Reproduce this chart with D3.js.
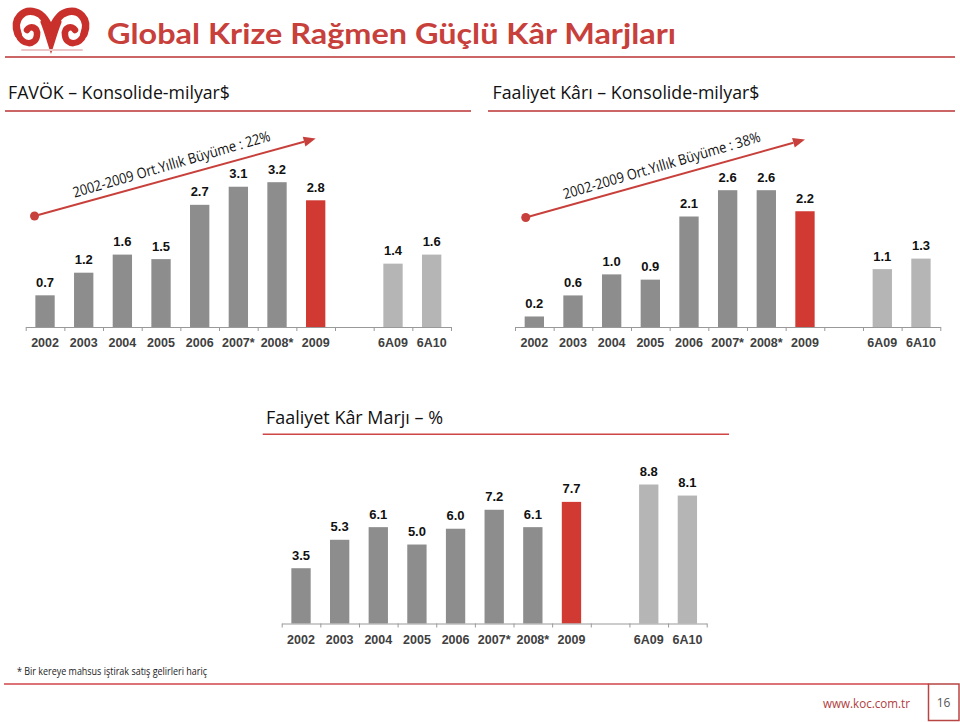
<!DOCTYPE html>
<html>
<head>
<meta charset="utf-8">
<script src="https://cdn.jsdelivr.net/npm/d3@7/dist/d3.min.js"></script>
<style>
  html, body { margin: 0; padding: 0; background: #fff; }
  svg { display: block; }
</style>
</head>
<body>
<svg id="page" width="960" height="722"></svg>
<script>
// ---------------- DATA ----------------
const categories = ["2002", "2003", "2004", "2005", "2006", "2007*", "2008*", "2009", "", "6A09", "6A10"];
const favokValues = [0.7, 1.2, 1.6, 1.5, 2.7, 3.1, 3.2, 2.8, null, 1.4, 1.6];
const faaliyetValues = [0.2, 0.6, 1.0, 0.9, 2.1, 2.6, 2.6, 2.2, null, 1.1, 1.3];
const marginValues = [3.5, 5.3, 6.1, 5.0, 6.0, 7.2, 6.1, 7.7, null, 8.8, 8.1];
const favokLabels = ["0.7", "1.2", "1.6", "1.5", "2.7", "3.1", "3.2", "2.8", "", "1.4", "1.6"];
const faaliyetLabels = ["0.2", "0.6", "1.0", "0.9", "2.1", "2.6", "2.6", "2.2", "", "1.1", "1.3"];
const marginLabels = ["3.5", "5.3", "6.1", "5.0", "6.0", "7.2", "6.1", "7.7", "", "8.8", "8.1"];
const growthTexts = ["2002-2009 Ort.Yıllık Büyüme : 22%", "2002-2009 Ort.Yıllık Büyüme : 38%"];
const titleText = "Global Krize Rağmen Güçlü Kâr Marjları";
const subtitle1 = "FAVÖK – Konsolide-milyar$";
const subtitle2 = "Faaliyet Kârı – Konsolide-milyar$";
const subtitle3 = "Faaliyet Kâr Marjı – %";
const footnote = "* Bir kereye mahsus iştirak satış gelirleri hariç";
const website = "www.koc.com.tr";
const pageNumber = "16";

// ---------------- STYLE ----------------
const RED = "#C8403B";
const LINE_RED = "#CC6666";
const DARK_BAR = "#8D8D8D";
const LIGHT_BAR = "#B5B5B5";
const RED_BAR = "#D13A33";
const SANS = "'Liberation Sans', Arial, sans-serif";
const HUMAN_BOLD = "Lato, 'Open Sans', sans-serif";
const HUMAN = "'Open Sans', 'Noto Sans', sans-serif";

function barColor(cat) {
  if (cat === "2009") return RED_BAR;
  if (cat.startsWith("6A")) return LIGHT_BAR;
  return DARK_BAR;
}

const svg = d3.select("#page");

// ---------------- HEADER ----------------
// Logo (approximation)
const logo = svg.append("g").attr("fill", "none").attr("stroke", "#C9302C").attr("stroke-linecap", "round");
logo.append("path")
  .attr("d", "M18,34 C12,18 24,9 35,12 C43,14 47,22 51,30 C55,22 59,14 67,12 C78,9 90,18 84,34")
  .attr("stroke-width", 7.5);
logo.append("path")
  .attr("d", "M18,34 C22,46 36,46 37,35 C38,27 30,25 27,30")
  .attr("stroke-width", 6.5);
logo.append("path")
  .attr("d", "M84,34 C80,46 66,46 65,35 C64,27 72,25 75,30")
  .attr("stroke-width", 6.5);
logo.append("path")
  .attr("d", "M43,22 C47,32 49,40 51,46 C53,40 55,32 59,22")
  .attr("stroke-width", 5);
logo.append("path")
  .attr("d", "M22,50 L82,50").attr("stroke", "#ecc6c6").attr("stroke-width", 2);

svg.append("text")
  .attr("x", 107).attr("y", 44)
  .attr("font-family", HUMAN_BOLD).attr("font-weight", 700).attr("font-size", 28)
  .attr("fill", RED)
  .attr("textLength", 569).attr("lengthAdjust", "spacingAndGlyphs")
  .text(titleText);

svg.append("line").attr("x1", 5).attr("x2", 955).attr("y1", 57).attr("y2", 57)
  .attr("stroke", LINE_RED).attr("stroke-width", 2);

svg.append("text").attr("x", 8).attr("y", 98.5)
  .attr("font-family", HUMAN).attr("font-size", 18).attr("fill", "#111")
  .attr("textLength", 222).attr("lengthAdjust", "spacingAndGlyphs")
  .text(subtitle1);
svg.append("text").attr("x", 492.5).attr("y", 98.5)
  .attr("font-family", HUMAN).attr("font-size", 18).attr("fill", "#111")
  .attr("textLength", 267).attr("lengthAdjust", "spacingAndGlyphs")
  .text(subtitle2);

svg.append("line").attr("x1", 5).attr("x2", 471).attr("y1", 111).attr("y2", 111)
  .attr("stroke", LINE_RED).attr("stroke-width", 2);
svg.append("line").attr("x1", 488).attr("x2", 955).attr("y1", 111).attr("y2", 111)
  .attr("stroke", LINE_RED).attr("stroke-width", 2);

// ---------------- CHART BUILDER ----------------
function drawChart(opts) {
  const { values, labels, x0, x1, baseline, maxHeight } = opts;
  const keys = categories.map((c, i) => c === "" ? "gap" + i : c);
  const x = d3.scaleBand().domain(keys).range([x0, x1]).paddingInner(0.5).paddingOuter(0.25);
  const y = d3.scaleLinear().domain([0, d3.max(values)]).range([baseline, baseline - maxHeight]);
  const g = svg.append("g");

  const data = keys.map((k, i) => ({ k, cat: categories[i], v: values[i], label: labels[i] }))
    .filter(d => d.v !== null);

  g.selectAll("rect.bar").data(data).join("rect")
    .attr("class", "bar")
    .attr("x", d => x(d.k))
    .attr("width", x.bandwidth())
    .attr("y", d => y(d.v))
    .attr("height", d => y(0) - y(d.v))
    .attr("fill", d => barColor(d.cat));

  g.selectAll("text.val").data(data).join("text")
    .attr("class", "val")
    .attr("x", d => x(d.k) + x.bandwidth() / 2)
    .attr("y", d => y(d.v) - 8.5)
    .attr("text-anchor", "middle")
    .attr("font-family", SANS).attr("font-weight", 700).attr("font-size", 13)
    .attr("fill", "#111")
    .text(d => d.label);

  // boundary ticks axis
  const xb = d3.scaleLinear().domain([0, keys.length]).range([x0, x1]);
  const ax = g.append("g").attr("transform", `translate(0,${baseline})`)
    .call(d3.axisBottom(xb).tickValues(d3.range(keys.length + 1)).tickFormat("").tickSize(4).tickSizeOuter(0));
  ax.select(".domain").attr("stroke", "#999").attr("stroke-width", 1.2);
  ax.selectAll(".tick line").attr("stroke", "#999");

  // category labels
  const lab = g.append("g").attr("transform", `translate(0,${baseline})`)
    .call(d3.axisBottom(x).tickSize(0).tickPadding(11.5).tickFormat(k => k.startsWith("gap") ? "" : k));
  lab.select(".domain").remove();
  lab.selectAll("text").attr("font-family", SANS).attr("font-weight", 700)
    .attr("font-size", 12.5).attr("fill", "#404040");

  return { x, y, g };
}

function drawGrowth(chart, text, baseline, dy0, dy1, dx0) {
  const { x, g } = chart;
  const bx = x("2002") + x.bandwidth() / 2 + dx0;
  const by = baseline - dy0;
  const tx = x("2009") + x.bandwidth() / 2;
  const ty = baseline - dy1;
  const ang = Math.atan2(ty - by, tx - bx);
  const deg = ang * 180 / Math.PI;
  const headLen = 12;
  const lx = tx - headLen * Math.cos(ang), ly = ty - headLen * Math.sin(ang);
  g.append("line").attr("x1", bx).attr("y1", by).attr("x2", lx).attr("y2", ly)
    .attr("stroke", "#C8403B").attr("stroke-width", 2);
  g.append("circle").attr("cx", bx).attr("cy", by).attr("r", 4.5).attr("fill", "#C8403B");
  g.append("path").attr("d", "M0,0 L-12,-5 L-12,5 Z")
    .attr("transform", `translate(${tx},${ty}) rotate(${deg})`)
    .attr("fill", "#C8403B");
  // text along the arrow
  const frac = 0.5;
  const mx = bx + (tx - bx) * frac, my = by + (ty - by) * frac;
  const off = 8.5;
  const px = mx + off * Math.sin(ang), py = my - off * Math.cos(ang);
  g.append("text")
    .attr("transform", `translate(${px},${py}) rotate(${deg - 0.8})`)
    .attr("text-anchor", "middle")
    .attr("font-family", HUMAN).attr("font-size", 14.5).attr("fill", "#111")
    .attr("textLength", 205).attr("lengthAdjust", "spacingAndGlyphs")
    .text(text);
}

const c1 = drawChart({ values: favokValues, labels: favokLabels, x0: 25.7, x1: 451, baseline: 327, maxHeight: 144.8 });
drawGrowth(c1, growthTexts[0], 327, 111, 188.5, -10.5);

const c2 = drawChart({ values: faaliyetValues, labels: faaliyetLabels, x0: 515, x1: 940.3, baseline: 327, maxHeight: 136.8 });
drawGrowth(c2, growthTexts[1], 327, 109.5, 187.5, -8.6);

// Chart 3 title
svg.append("text").attr("x", 266).attr("y", 423.5)
  .attr("font-family", HUMAN).attr("font-size", 18).attr("fill", "#111")
  .attr("textLength", 177).attr("lengthAdjust", "spacingAndGlyphs")
  .text(subtitle3);
svg.append("line").attr("x1", 262.7).attr("x2", 729).attr("y1", 434.3).attr("y2", 434.3)
  .attr("stroke", "#D04545").attr("stroke-width", 1.5);

drawChart({ values: marginValues, labels: marginLabels, x0: 281.7, x1: 706.7, baseline: 623.5, maxHeight: 139 });

// ---------------- FOOTER ----------------
svg.append("text").attr("x", 17).attr("y", 675)
  .attr("font-family", HUMAN).attr("font-size", 10).attr("fill", "#222")
  .attr("textLength", 190).attr("lengthAdjust", "spacingAndGlyphs")
  .text(footnote);
svg.append("line").attr("x1", 4).attr("x2", 928.5).attr("y1", 684).attr("y2", 684)
  .attr("stroke", "#D0454A").attr("stroke-width", 1.5);
svg.append("rect").attr("x", 928.5).attr("y", 684).attr("width", 30.5).attr("height", 36.5)
  .attr("fill", "none").attr("stroke", "#B84444").attr("stroke-width", 1.5);
svg.append("text").attr("x", 823).attr("y", 707.5)
  .attr("font-family", HUMAN).attr("font-size", 13).attr("fill", "#B04040")
  .attr("textLength", 87).attr("lengthAdjust", "spacingAndGlyphs")
  .text(website);
svg.append("text").attr("x", 943.5).attr("y", 706.5).attr("text-anchor", "middle")
  .attr("font-family", HUMAN).attr("font-size", 12).attr("fill", "#555")
  .text(pageNumber);
</script>
</body>
</html>
